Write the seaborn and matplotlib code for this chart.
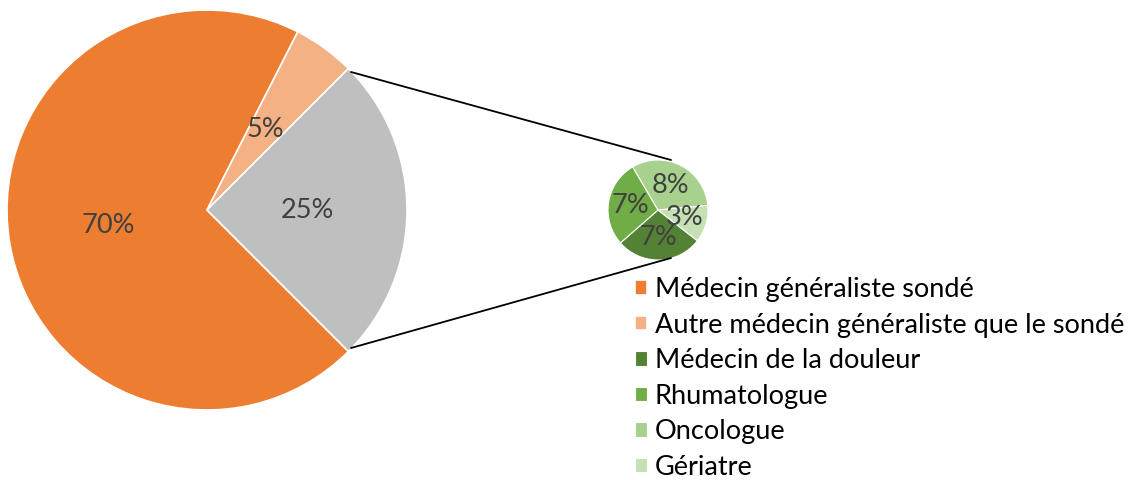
import matplotlib
matplotlib.use("Agg")
import matplotlib.pyplot as plt
import seaborn as sns

# données du graphique principal
principal_labels = ["Médecin généraliste sondé", "Autre médecin généraliste que le sondé", "Autres"]
principal_valeurs = [70, 5, 25]
principal_couleurs = ["#ED7D31", "#F4B183", "#BFBFBF"]

# détail des 25 % (secteur secondaire)
detail_labels = ["Médecin de la douleur", "Rhumatologue", "Oncologue", "Gériatre"]
detail_valeurs = [7, 7, 8, 3]
detail_couleurs = ["#548235", "#70AD47", "#A9D18E", "#C5E0B4"]

sns.set_theme(style="white")
plt.rcParams['font.family'] = ['Lato', 'DejaVu Sans']

fig = plt.figure(figsize=(11.35, 4.8), dpi=100)
ax = fig.add_axes([0, 0, 1, 1])

# secteur principal
w1, t1, a1 = ax.pie(principal_valeurs, colors=principal_couleurs, startangle=-45,
                    counterclock=False, radius=200, center=(207, 270),
                    autopct=lambda p: f"{p:.0f}%", pctdistance=0.5,
                    wedgeprops=dict(edgecolor="white", linewidth=1.2),
                    textprops=dict(color="#404040", fontsize=19.5))

# secteur secondaire
w2, t2, a2 = ax.pie(detail_valeurs, colors=detail_couleurs, startangle=-38,
                    counterclock=False, radius=50, center=(658, 270),
                    autopct=lambda p: f"{p * sum(detail_valeurs) / 100:.0f}%",
                    pctdistance=0.55,
                    wedgeprops=dict(edgecolor="white", linewidth=0.8),
                    textprops=dict(color="#404040", fontsize=19.5))

ax.set_xlim(0, 1135)
ax.set_ylim(0, 480)
ax.set_aspect("equal")
ax.axis("off")

# lignes de liaison
for y1, y2 in [(408, 320), (132, 222)]:
    ax.plot([351, 671], [y1, y2], color="black", lw=1.3)

handles = [w1[0], w1[1]] + list(w2)
labels = principal_labels[:2] + detail_labels
leg = ax.legend(handles, labels, loc="upper left", bbox_to_anchor=(635, 203),
                bbox_transform=ax.transData, frameon=False, fontsize=19.5,
                handlelength=0.45, handleheight=0.45, handletextpad=0.28,
                labelspacing=0.39, borderpad=0, borderaxespad=0)
for txt in leg.get_texts():
    txt.set_color("black")

plt.savefig("out.png", dpi=100)
plt.close("all")
